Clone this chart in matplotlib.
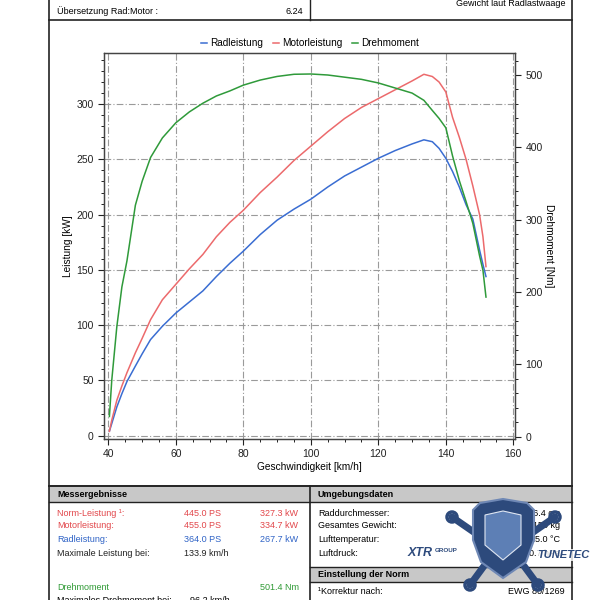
import numpy as np
import matplotlib.pyplot as plt
from matplotlib.patches import Rectangle, Polygon, Circle
from matplotlib.ticker import MultipleLocator

# ------------------------------------------------------------------
# Data
# ------------------------------------------------------------------
speed = [40.3, 41, 42.5, 44, 45.5, 48, 50, 52.5, 56, 60, 64, 68, 72, 76,
         80, 85, 90, 95, 100, 105, 110, 115, 120, 125, 130, 133.5, 136,
         138, 140, 142, 144, 146, 148, 150, 151, 151.9]

rad_kw = [4, 11, 26, 38, 49, 63, 74, 87, 99, 111, 121, 131, 144, 156,
          167, 182, 195, 205, 214, 225, 235, 243, 251, 258, 264, 267.7, 266,
          260, 251, 239, 225, 209, 196, 168, 155, 144]

motor_kw = [4, 14, 32, 45, 57, 75, 88, 105, 123, 137, 151, 164, 180, 193,
            204, 220, 234, 249, 262, 275, 287, 297, 305, 313, 321, 327, 325,
            320, 311, 288, 270, 250, 226, 200, 180, 153]

torque_nm = [28, 78, 152, 207, 243, 320, 353, 386, 413, 434, 449, 461, 471,
             478, 486, 493, 498, 501, 501.4, 500, 497, 494, 489, 482, 475,
             465, 451, 440, 427, 388, 354, 325, 295, 250, 230, 193]

series_names = ['Radleistung', 'Motorleistung', 'Drehmoment']

res_labels = ['Norm-Leistung \u00b9:', 'Motorleistung:', 'Radleistung:',
              'Maximale Leistung bei:']
res_ps = ['445.0 PS', '455.0 PS', '364.0 PS', '133.9 km/h']
res_kw = ['327.3 kW', '334.7 kW', '267.7 kW', '']

env_labels = ['Raddurchmesser:', 'Gesamtes Gewicht:', 'Lufttemperatur:',
              'Luftdruck:']
env_values = ['66.4 cm', '2150 kg', '25.0 \u00b0C', '1010.7 hPa']

BLUE = '#3a6dd2'
RED = '#ec6a6c'
GREEN = '#2f9a3a'
TXT_RED = '#e2474b'
TXT_BLUE = '#2f63c6'
TXT_GREEN = '#2f9a35'
NAVY = '#2d4a7c'

plt.rcParams['font.family'] = ['Liberation Sans', 'DejaVu Sans']

W, H = 598, 600
FS = 6.5   # report text size

fig = plt.figure(figsize=(W / 100, H / 100), dpi=100)

# page layer in pixel coordinates (y down)
page = fig.add_axes([0, 0, 1, 1], zorder=0)
page.set_xlim(0, W)
page.set_ylim(H, 0)
page.axis('off')


def hline(y, x0, x1, lw=1.0):
    page.plot([x0, x1], [y, y], color='#222222', lw=lw)


def vline(x, y0, y1, lw=1.0):
    page.plot([x, x], [y0, y1], color='#222222', lw=lw)


# ------------------------------------------------------------------
# Header fragment
# ------------------------------------------------------------------
L, R, MID = 49, 572, 310
vline(L, 0, 600, 1.2)
vline(R, 0, 600, 1.2)
vline(MID, 0, 20)
hline(20, L, R, 1.2)
page.text(57, 11, '\u00dcbersetzung Rad:Motor :', fontsize=FS, va='center')
page.text(303, 11, '6.24', fontsize=FS, va='center', ha='right')
page.text(565, 4, 'Gewicht laut Radlastwaage', fontsize=FS, va='center',
          ha='right')

# ------------------------------------------------------------------
# Chart
# ------------------------------------------------------------------
ax = fig.add_axes([104 / W, 1 - 439 / H, (515 - 104) / W, (439 - 53.3) / H],
                  zorder=1)
ax2 = ax.twinx()
ax2.set_zorder(2)

h1, = ax.plot(speed, rad_kw, color=BLUE, lw=1.1)
h2, = ax.plot(speed, motor_kw, color=RED, lw=1.1)
h3, = ax2.plot(speed, torque_nm, color=GREEN, lw=1.1)

ax.set_xlim(38.7, 160.5)
ax.set_ylim(-3.0, 346)
ax2.set_ylim(-3.2, 530)

ax.xaxis.set_major_locator(MultipleLocator(20))
ax.xaxis.set_minor_locator(MultipleLocator(5))
ax.yaxis.set_major_locator(MultipleLocator(50))
ax.yaxis.set_minor_locator(MultipleLocator(10))
ax2.yaxis.set_major_locator(MultipleLocator(100))
ax2.yaxis.set_minor_locator(MultipleLocator(20))

ax.grid(which='major', color='#9a9a9a', lw=0.8, linestyle=(0, (6, 2, 1, 2)))
for a in (ax, ax2):
    a.tick_params(which='major', direction='out', length=4, width=0.8,
                  labelsize=7.5, colors='#222222')
    a.tick_params(which='minor', direction='out', length=2.5, width=0.7,
                  colors='#222222')
    for s in a.spines.values():
        s.set_color('#444444')
        s.set_linewidth(0.9)

ax.set_xlabel('Geschwindigkeit [km/h]', fontsize=7.3, labelpad=2)
ax.set_ylabel('Leistung [kW]', fontsize=7.3, labelpad=2)
ax2.set_ylabel('Drehmoment [Nm]', fontsize=7.3, rotation=-90, labelpad=8)

fig.legend([h1, h2, h3], series_names, loc='center',
           bbox_to_anchor=(310 / W, 1 - 43 / H), ncol=3, frameon=False,
           handlelength=0.6, handletextpad=0.3, columnspacing=1.0,
           fontsize=7.2)

# ------------------------------------------------------------------
# Result tables
# ------------------------------------------------------------------
hline(486, L, R, 1.4)
vline(MID, 486, 600, 1.2)
for x0, x1 in ((L, MID), (MID, R)):
    page.add_patch(Rectangle((x0, 487), x1 - x0, 15, facecolor='#c8c8c8',
                             edgecolor='none'))
hline(502, L, R, 1.0)
page.add_patch(Rectangle((MID, 567), R - MID, 15, facecolor='#c8c8c8',
                         edgecolor='none'))
hline(567, MID, R, 1.0)
hline(582, MID, R, 1.0)

page.text(57, 494.5, 'Messergebnisse', fontsize=FS, fontweight='bold',
          va='center')
page.text(318, 494.5, 'Umgebungsdaten', fontsize=FS, fontweight='bold',
          va='center')
page.text(318, 574.5, 'Einstellung der Norm', fontsize=FS, fontweight='bold',
          va='center')

row_y = [513, 526, 540, 553]
row_col = [TXT_RED, TXT_RED, TXT_BLUE, '#222222']
for y, c, lab, ps, kw in zip(row_y, row_col, res_labels, res_ps, res_kw):
    page.text(57, y, lab, fontsize=FS, color=c, va='center')
    page.text(184, y, ps, fontsize=FS, color=c, va='center')
    page.text(260, y, kw, fontsize=FS, color=c, va='center')

page.text(57, 587, 'Drehmoment', fontsize=FS, color=TXT_GREEN, va='center')
page.text(260, 587, '501.4 Nm', fontsize=FS, color=TXT_GREEN, va='center')
# last row is cut by the page edge in the original
page.text(57, 600.5, 'Maximales Drehmoment bei:', fontsize=FS, va='center')
page.text(190, 600.5, '96.2 km/h', fontsize=FS, va='center')

for y, lab, val in zip(row_y, env_labels, env_values):
    page.text(318, y, lab, fontsize=FS, va='center')
    page.text(560, y, val, fontsize=FS, va='center', ha='right')
page.text(318, 592, '\u00b9Korrektur nach:', fontsize=FS, va='center')
page.text(565, 592, 'EWG 80/1269', fontsize=FS, va='center', ha='right')

# ------------------------------------------------------------------
# Watermark logo (simplified)
# ------------------------------------------------------------------
for (xa, ya, xb, yb) in ((452, 517, 478, 535), (555, 517, 529, 535),
                         (470, 585, 484, 566), (538, 585, 524, 566)):
    page.plot([xa, xb], [ya, yb], color=NAVY, lw=5, solid_capstyle='round',
              zorder=5)
    page.add_patch(Circle((xa, ya), 5, facecolor='none', edgecolor=NAVY,
                          lw=2.5, zorder=5))
shield = [(473, 510), (480, 503), (503, 499), (527, 503), (534, 510),
          (534, 540), (526, 562), (503, 578), (481, 562), (473, 540)]
page.add_patch(Polygon(shield, closed=True, facecolor=NAVY,
                       edgecolor='#6f88b5', lw=1.5, zorder=6))
inner = [(485, 515), (503, 511), (521, 515), (521, 545), (503, 560),
         (485, 545)]
page.add_patch(Polygon(inner, closed=True, facecolor='#5d7fb5',
                       edgecolor='#dfe6f2', lw=0.8, zorder=7))
page.add_patch(Rectangle((405, 547), 60, 12, facecolor='white',
                         edgecolor='none', alpha=0.8, zorder=6))
page.text(408, 553, 'XTR', fontsize=9, fontweight='bold', style='italic',
          color=NAVY, va='center', zorder=8)
page.text(435, 551, 'GROUP', fontsize=4.5, fontweight='bold', color=NAVY,
          va='center', zorder=8)
page.text(537, 555, 'TUNETEC', fontsize=8, fontweight='bold', style='italic',
          color=NAVY, va='center', zorder=8,
          bbox=dict(facecolor='white', edgecolor='none', pad=0.5, alpha=0.8))

fig.savefig('out.png', dpi=100)
